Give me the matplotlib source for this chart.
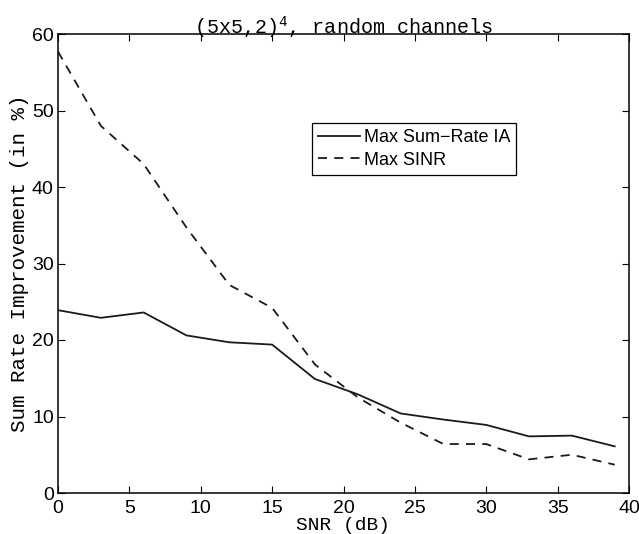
import matplotlib
matplotlib.use("Agg")
import matplotlib.pyplot as plt

snr = [0, 3, 6, 9, 12, 15, 18, 21, 24, 27, 30, 33, 36, 39]
sum_rate_ia = [23.9, 22.9, 23.6, 20.6, 19.7, 19.4, 14.9, 12.9, 10.4, 9.6, 8.9, 7.4, 7.5, 6.1]
max_sinr = [57.7, 48.0, 43.0, 34.7, 27.2, 24.2, 16.8, 12.5, 9.2, 6.4, 6.4, 4.4, 5.0, 3.7]
xticks = [0, 5, 10, 15, 20, 25, 30, 35, 40]
yticks = [0, 10, 20, 30, 40, 50, 60]

plt.rcParams['mathtext.fontset'] = 'custom'
plt.rcParams['mathtext.rm'] = 'Liberation Mono'
plt.rcParams['mathtext.it'] = 'Liberation Mono'

fig = plt.figure(figsize=(6.39, 5.34), dpi=100)
ax = fig.add_axes([58/639, 1-493/534, 571/639, 459/534])

ax.plot(snr, sum_rate_ia, color='#1a1a1a', lw=1.3, label='Max Sum\u2212Rate IA')
ax.plot(snr, max_sinr, color='#1a1a1a', lw=1.3, ls=(0, (5, 4)), label='Max SINR')

ax.set_xlim(0, 40)
ax.set_ylim(0, 60)
ax.set_xticks(xticks)
ax.set_yticks(yticks)
ax.tick_params(direction='in', length=5, width=0.8, top=True, right=True,
               labelsize=14, pad=3)
ax.tick_params(axis='x', pad=5)
for lab in ax.get_xticklabels() + ax.get_yticklabels():
    lab.set_family('Liberation Sans')
for s in ax.spines.values():
    s.set_linewidth(1.1)

ax.set_xlabel('SNR (dB)', family='Liberation Mono', fontsize=14, labelpad=0)
ax.set_ylabel('Sum Rate Improvement (in %)', family='Liberation Mono', fontsize=15, labelpad=2)
ax.set_title(r'(5x5,2)$^4$, random channels', family='Liberation Mono', fontsize=14.5, pad=0)

leg = ax.legend(loc='upper left', bbox_to_anchor=(0.445, 0.806), frameon=True, fancybox=False,
                edgecolor='black', framealpha=1, prop={'family': 'Liberation Sans', 'size': 13},
                handlelength=2.3, handletextpad=0.2, borderpad=0.35, labelspacing=0.3,
                borderaxespad=0)
leg.get_frame().set_linewidth(0.9)

fig.savefig('out.png', dpi=100)
